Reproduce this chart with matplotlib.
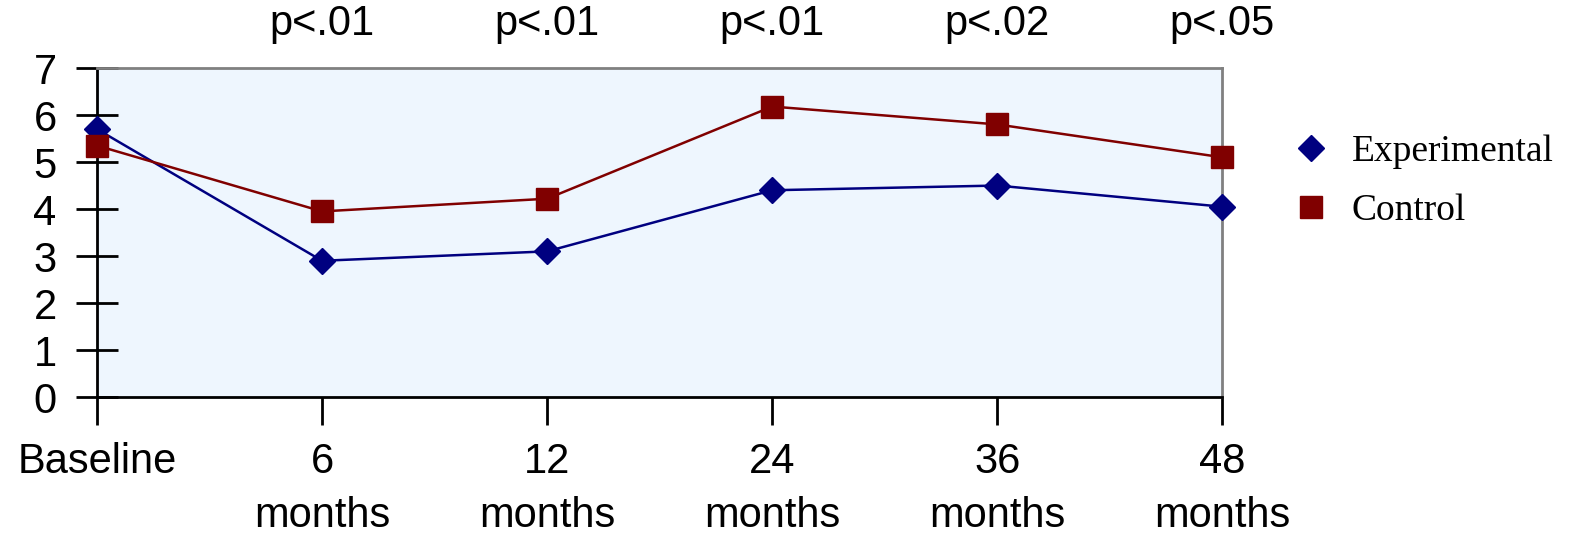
import numpy as np
import matplotlib.pyplot as plt

categories = ['Baseline\n', '6\nmonths', '12\nmonths', '24\nmonths', '36\nmonths', '48\nmonths']
experimental = [5.7, 2.9, 3.1, 4.4, 4.5, 4.05]
control = [5.35, 3.95, 4.22, 6.18, 5.8, 5.1]
p_labels = ['', 'p<.01', 'p<.01', 'p<.01', 'p<.02', 'p<.05']

fig = plt.figure(figsize=(15.74, 5.44), dpi=100)
ax = fig.add_axes([0.0616, 0.27, 0.715, 0.605])
ax.set_facecolor('#eef6fe')

x = np.arange(len(categories))
ax.plot(x, experimental, color='#000080', lw=1.8, marker='D', ms=13, label='Experimental', clip_on=False, zorder=3)
ax.plot(x, control, color='#800000', lw=1.8, marker='s', ms=16, label='Control', clip_on=False, zorder=3)

ax.set_xlim(0, len(categories) - 1)
ax.set_ylim(0, 7)
ax.set_yticks(range(8))
ax.set_xticks(x)
ax.set_xticklabels(categories, fontsize=30, family='Liberation Sans', linespacing=1.45)
ax.tick_params(axis='y', direction='inout', length=30, width=2, labelsize=30, pad=14)
ax.tick_params(axis='x', direction='out', length=20, width=2, pad=12)
for lab in ax.get_yticklabels():
    lab.set_family('Liberation Sans')

for s in ['left', 'bottom']:
    ax.spines[s].set_color('black')
    ax.spines[s].set_linewidth(2)
for s in ['top', 'right']:
    ax.spines[s].set_color('#808080')
    ax.spines[s].set_linewidth(2)

for xi, lab in zip(x, p_labels):
    if lab:
        ax.text(xi, 7.5, lab, ha='center', va='bottom', fontsize=30,
                family='Liberation Sans', clip_on=False)

leg = ax.legend(loc='upper left', bbox_to_anchor=(1.035, 0.9), frameon=False,
                prop={'family': 'Liberation Serif', 'size': 27},
                handlelength=0.8, handletextpad=0.7, labelspacing=0.65)
for h in leg.legend_handles:
    h.set_linestyle('None')

fig.savefig('out.png', dpi=100)
